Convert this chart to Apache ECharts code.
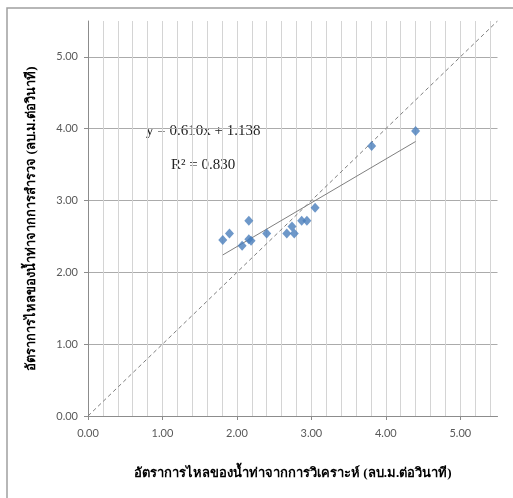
<!DOCTYPE html>
<html>
<head>
<meta charset="utf-8">
<script src="https://cdn.jsdelivr.net/npm/echarts@6/dist/echarts.min.js"></script>
<style>
html,body{margin:0;padding:0;background:#fff;}
#chart{width:513px;height:498px;}
</style>
</head>
<body>
<div id="chart"></div>
<script>
// Observed (analysis) flow vs surveyed flow, m3/s
const analysedFlow = [1.81, 1.90, 2.07, 2.16, 2.19, 2.16, 2.40, 2.67, 2.74, 2.77, 2.87, 2.94, 3.05, 3.81, 4.40];
const surveyedFlow = [2.45, 2.54, 2.37, 2.46, 2.44, 2.72, 2.54, 2.54, 2.64, 2.54, 2.72, 2.72, 2.90, 3.76, 3.97];
const trendSlope = 0.610;
const trendIntercept = 1.138;
const trendLabel = 'y = 0.610x + 1.138';
const r2Label = 'R² = 0.830';
const identityLine = [[0, 0], [5.5, 5.5]];
const xAxisTitle = 'อัตราการไหลของน้ำท่าจากการวิเคราะห์ (ลบ.ม.ต่อวินาที)';
const yAxisTitle = 'อัตราการไหลของน้ำท่าจากการสำรวจ (ลบ.ม.ต่อวินาที)';
const axisMin = 0, axisMax = 5.5;

const points = analysedFlow.map((x, i) => [x, surveyedFlow[i]]);
const tMin = Math.min(...analysedFlow), tMax = Math.max(...analysedFlow);
const trendData = [[tMin, trendSlope * tMin + trendIntercept], [tMax, trendSlope * tMax + trendIntercept]];

const labelFmt = v => (Math.abs(v - Math.round(v)) < 1e-9 ? v.toFixed(2) : '');
const tickFont = {color: '#595959', fontSize: 11, fontFamily: 'Lato, "Liberation Sans", sans-serif'};
const titleFont = {color: '#000', fontSize: 13, fontWeight: 'bold', fontFamily: '"Liberation Serif", "DejaVu Serif", serif'};

const chart = echarts.init(document.getElementById('chart'), null, {renderer: 'canvas'});
chart.setOption({
  animation: false,
  backgroundColor: '#fff',
  grid: {left: 88, top: 21, right: 15.5, bottom: 82, containLabel: false},
  xAxis: [{
    type: 'value', min: axisMin, max: axisMax, interval: 1,
    axisLine: {show: true, lineStyle: {color: '#8c8c8c', width: 1}},
    axisTick: {show: true, length: 4, lineStyle: {color: '#8c8c8c'}},
    axisLabel: {formatter: labelFmt, margin: 12, showMaxLabel: false, ...tickFont},
    splitLine: {show: true, showMaxLine: false, lineStyle: {color: '#ababab', width: 1}},
    name: xAxisTitle, nameLocation: 'middle', nameGap: 51, nameTextStyle: titleFont
  }, {
    type: 'value', min: axisMin, max: axisMax, interval: 0.2, position: 'bottom',
    axisLine: {show: false}, axisTick: {show: false}, axisLabel: {show: false},
    splitLine: {show: true, showMaxLine: false, lineStyle: {color: '#d4d4d4', width: 1}}
  }],
  yAxis: {
    type: 'value', min: axisMin, max: axisMax, interval: 1,
    axisLine: {show: true, lineStyle: {color: '#8c8c8c', width: 1}},
    axisTick: {show: true, length: 4, lineStyle: {color: '#8c8c8c'}},
    axisLabel: {formatter: labelFmt, margin: 10, showMaxLabel: false, ...tickFont},
    splitLine: {show: true, showMaxLine: false, lineStyle: {color: '#ababab', width: 1}},
    name: yAxisTitle, nameLocation: 'middle', nameGap: 50, nameTextStyle: titleFont
  },
  series: [{
    type: 'line', data: identityLine, symbol: 'none', silent: true,
    lineStyle: {color: '#7f7f7f', width: 1, type: [4, 3]}, z: 3
  }, {
    type: 'line', data: trendData, symbol: 'none', silent: true,
    lineStyle: {color: '#808080', width: 1}, z: 3
  }, {
    type: 'scatter', data: points, symbol: 'diamond', symbolSize: [9, 10],
    itemStyle: {color: '#4a7ebb'}, z: 4
  }],
  graphic: [{
    type: 'rect', shape: {x: 7, y: 8, width: 520, height: 500},
    style: {fill: 'none', stroke: '#a0a0a0', lineWidth: 1.5}, silent: true
  }, {
    type: 'text', left: 146, top: 124,
    style: {text: trendLabel, font: '15px "Liberation Serif", serif', fill: '#222'}
  }, {
    type: 'text', left: 171, top: 158,
    style: {text: r2Label, font: '15px "Liberation Serif", serif', fill: '#222'}
  }]
});
</script>
</body>
</html>
